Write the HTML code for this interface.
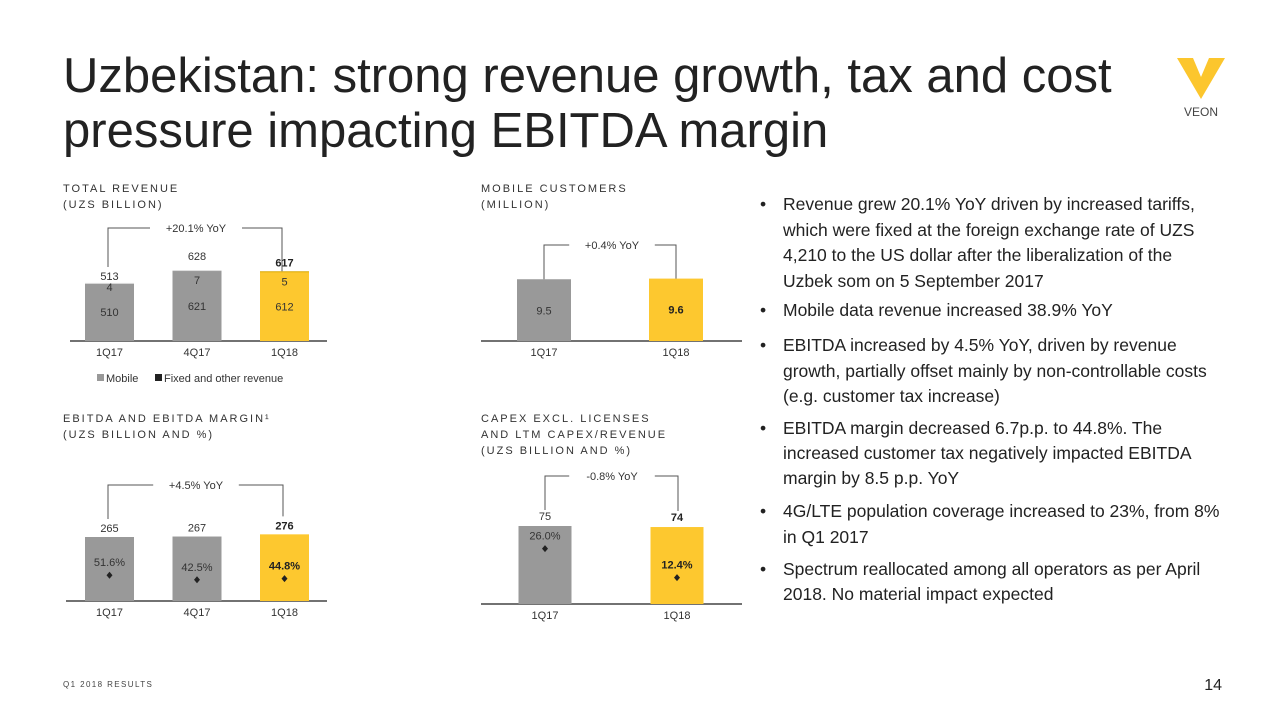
<!DOCTYPE html>
<html><head><meta charset="utf-8"><style>
body{margin:0;background:#fff}
svg{display:block;font-family:"Liberation Sans",Arial,sans-serif}
</style></head><body>
<svg id="s" width="1280" height="720" viewBox="0 0 1280 720">
<text x="63" y="92" font-size="49" fill="#222">Uzbekistan: strong revenue growth, tax and cost</text>
<text x="63" y="147" font-size="49" fill="#222">pressure impacting EBITDA margin</text>
<g>
<polygon points="1177,58 1193,58 1201,77 1209,58 1225,58 1201,99" fill="#fcc62d"/>
<text x="1201" y="116" font-size="12" text-anchor="middle" fill="#444">VEON</text>
</g>
<g font-size="11" letter-spacing="2.0" fill="#333">
<text x="63" y="192">TOTAL REVENUE</text><text x="63" y="208">(UZS BILLION)</text>
<text x="481" y="192">MOBILE CUSTOMERS</text><text x="481" y="208">(MILLION)</text>
<text x="63" y="422">EBITDA AND EBITDA MARGIN¹</text><text x="63" y="438">(UZS BILLION AND %)</text>
<text x="481" y="422">CAPEX EXCL. LICENSES</text><text x="481" y="438">AND LTM CAPEX/REVENUE</text><text x="481" y="454">(UZS BILLION AND %)</text>
</g>
<g font-size="17.5" fill="#222">
<text x="760" y="210">•</text><text x="783" y="210">Revenue grew 20.1% YoY driven by increased tariffs,</text>
<text x="783" y="236">which were fixed at the foreign exchange rate of UZS</text>
<text x="783" y="261">4,210 to the US dollar after the liberalization of the</text>
<text x="783" y="287">Uzbek som on 5 September 2017</text>
<text x="760" y="316">•</text><text x="783" y="316">Mobile data revenue increased 38.9% YoY</text>
<text x="760" y="351">•</text><text x="783" y="351">EBITDA increased by 4.5% YoY, driven by revenue</text>
<text x="783" y="377">growth, partially offset mainly by non-controllable costs</text>
<text x="783" y="402">(e.g. customer tax increase)</text>
<text x="760" y="434">•</text><text x="783" y="434">EBITDA margin decreased 6.7p.p. to 44.8%. The</text>
<text x="783" y="459">increased customer tax negatively impacted EBITDA</text>
<text x="783" y="484">margin by 8.5 p.p. YoY</text>
<text x="760" y="517">•</text><text x="783" y="517">4G/LTE population coverage increased to 23%, from 8%</text>
<text x="783" y="543">in Q1 2017</text>
<text x="760" y="575">•</text><text x="783" y="575">Spectrum reallocated among all operators as per April</text>
<text x="783" y="600">2018. No material impact expected</text>
</g>
<text x="63" y="687" font-size="8" letter-spacing="1.4" fill="#444">Q1 2018 RESULTS</text>
<text x="1222" y="690" font-size="16" text-anchor="end" fill="#222">14</text>
<g font-size="11" fill="#333">
<rect x="97" y="374" width="7" height="7" fill="#999"/><text x="106" y="382">Mobile</text>
<rect x="155" y="374" width="7" height="7" fill="#222"/><text x="164" y="382">Fixed and other revenue</text>
</g>
</svg>
<script>
const revCats=["1Q17","4Q17","1Q18"];
const revMobile=[510,621,612];
const revFixed=[4,7,5];
const revTotal=[513,628,617];
const subCats=["1Q17","1Q18"];
const subVals=[9.5,9.6];
const ebCats=["1Q17","4Q17","1Q18"];
const ebVals=[265,267,276];
const ebMargin=[51.6,42.5,44.8];
const cxCats=["1Q17","1Q18"];
const cxVals=[75,74];
const cxRatio=[26.0,12.4];
const yoy=["+20.1% YoY","+0.4% YoY","+4.5% YoY","-0.8% YoY"];

const S=document.getElementById('s');
const NS='http://www.w3.org/2000/svg';
function mk(tag,attrs,parent){const e=document.createElementNS(NS,tag);for(const k in attrs)e.setAttribute(k,attrs[k]);(parent||S).appendChild(e);return e;}
function txt(x,y,s,opt,parent){const e=mk('text',Object.assign({x:x,y:y,'text-anchor':'middle','font-size':11,fill:'#333'},opt||{}),parent);e.textContent=s;return e;}
const GREY='#999',YEL='#fdc82f';

function chart(name,x0,x1,base,xs,cats){
  const g=mk('g',{});
  
  
  const ax=mk('line',{x1:x0,x2:x1,y1:base,y2:base,stroke:'#444','stroke-width':1.5},g);
  
  
  cats.forEach((c,i)=>{const t=txt(xs(i),base+15,c,{},g);
    
    });
  return g;
}
function bracket(g,xa,ya,xb,yb,ytop,label,cx){
  const w=label.length*3.2+14;
  const p=mk('path',{d:`M${xa},${ya} V${ytop} H${cx-w} M${cx+w},${ytop} H${xb} V${yb}`,fill:'none',stroke:'#555','stroke-width':1},g);
  
  
  const t=txt(cx,ytop+4,label,{},g);
  
  
}
function diamond(g,x,y){const d=mk('path',{d:`M${x},${y-3.5} L${x+3},${y} L${x},${y+3.5} L${x-3},${y} Z`,fill:'#222'},g);
  
  }

// Revenue
(function(){
  const base=341,k=0.113,bw=49,xs=i=>109.5+i*87.5;
  const g=chart('revenue-chart',70,327,base,xs,revCats);
  revCats.forEach((c,i)=>{
    const col=i==2?YEL:GREY;
    const hm=revMobile[i]*k,hf=revFixed[i]*k,top=base-hm-hf;
    const b=mk('rect',{x:xs(i)-bw/2,y:base-hm,width:bw,height:hm,fill:col},g);
    
    
    const f=mk('rect',{x:xs(i)-bw/2,y:top,width:bw,height:Math.max(hf,1),fill:i==2?'#d9a800':'#ddd'},g);
    
    
    txt(xs(i),base-hm/2+4,revMobile[i],{},g);
    txt(xs(i),top+(i==0?8:14),revFixed[i],{},g);
    txt(xs(i),top-(i==0?3:(i==1?10:5)),revTotal[i],i==2?{'font-weight':'bold',fill:'#222'}:{},g);
  });
  bracket(g,108,base-revTotal[0]*k-16,282,base-revTotal[2]*k,228,yoy[0],196);
})();
// Mobile customers
(function(){
  const base=341,k=6.5,bw=54,xs=i=>544+i*132;
  const g=chart('mobile-customers-chart',481,742,base,xs,subCats);
  subCats.forEach((c,i)=>{
    const h=subVals[i]*k;
    const b=mk('rect',{x:xs(i)-bw/2,y:base-h,width:bw,height:h,fill:i==1?YEL:GREY},g);
    
    
    txt(xs(i),base-h+35,subVals[i].toFixed(1),i==1?{'font-weight':'bold',fill:'#222'}:{},g);
  });
  bracket(g,544,base-subVals[0]*k,676,base-subVals[1]*k,245,yoy[1],612);
})();
// EBITDA
(function(){
  const base=601,k=0.2415,bw=49,xs=i=>109.5+i*87.5,pk=0.5;
  const g=chart('ebitda-chart',66,327,base,xs,ebCats);
  ebCats.forEach((c,i)=>{
    const h=ebVals[i]*k;
    const b=mk('rect',{x:xs(i)-bw/2,y:base-h,width:bw,height:h,fill:i==2?YEL:GREY},g);
    
    
    const bold=i==2?{'font-weight':'bold',fill:'#222'}:{};
    txt(xs(i),base-h-5,ebVals[i],bold,g);
    const py=base-ebMargin[i]*pk;
    diamond(g,xs(i),py);
    txt(xs(i),py-9,ebMargin[i].toFixed(1)+'%',bold,g);
  });
  bracket(g,108,base-ebVals[0]*k-18,283,base-ebVals[2]*k-18,485,yoy[2],196);
})();
// Capex
(function(){
  const base=604,k=1.04,bw=53,xs=i=>545+i*132,pk=2.13;
  const g=chart('capex-chart',481,742,base,xs,cxCats);
  cxCats.forEach((c,i)=>{
    const h=cxVals[i]*k;
    const b=mk('rect',{x:xs(i)-bw/2,y:base-h,width:bw,height:h,fill:i==1?YEL:GREY},g);
    
    
    const bold=i==1?{'font-weight':'bold',fill:'#222'}:{};
    txt(xs(i),base-h-6,cxVals[i],bold,g);
    const py=base-cxRatio[i]*pk;
    diamond(g,xs(i),py);
    txt(xs(i),py-9,cxRatio[i].toFixed(1)+'%',bold,g);
  });
  bracket(g,545,base-cxVals[0]*k-16,678,base-cxVals[1]*k-16,476,yoy[3],612);
})();
</script>
</body></html>
